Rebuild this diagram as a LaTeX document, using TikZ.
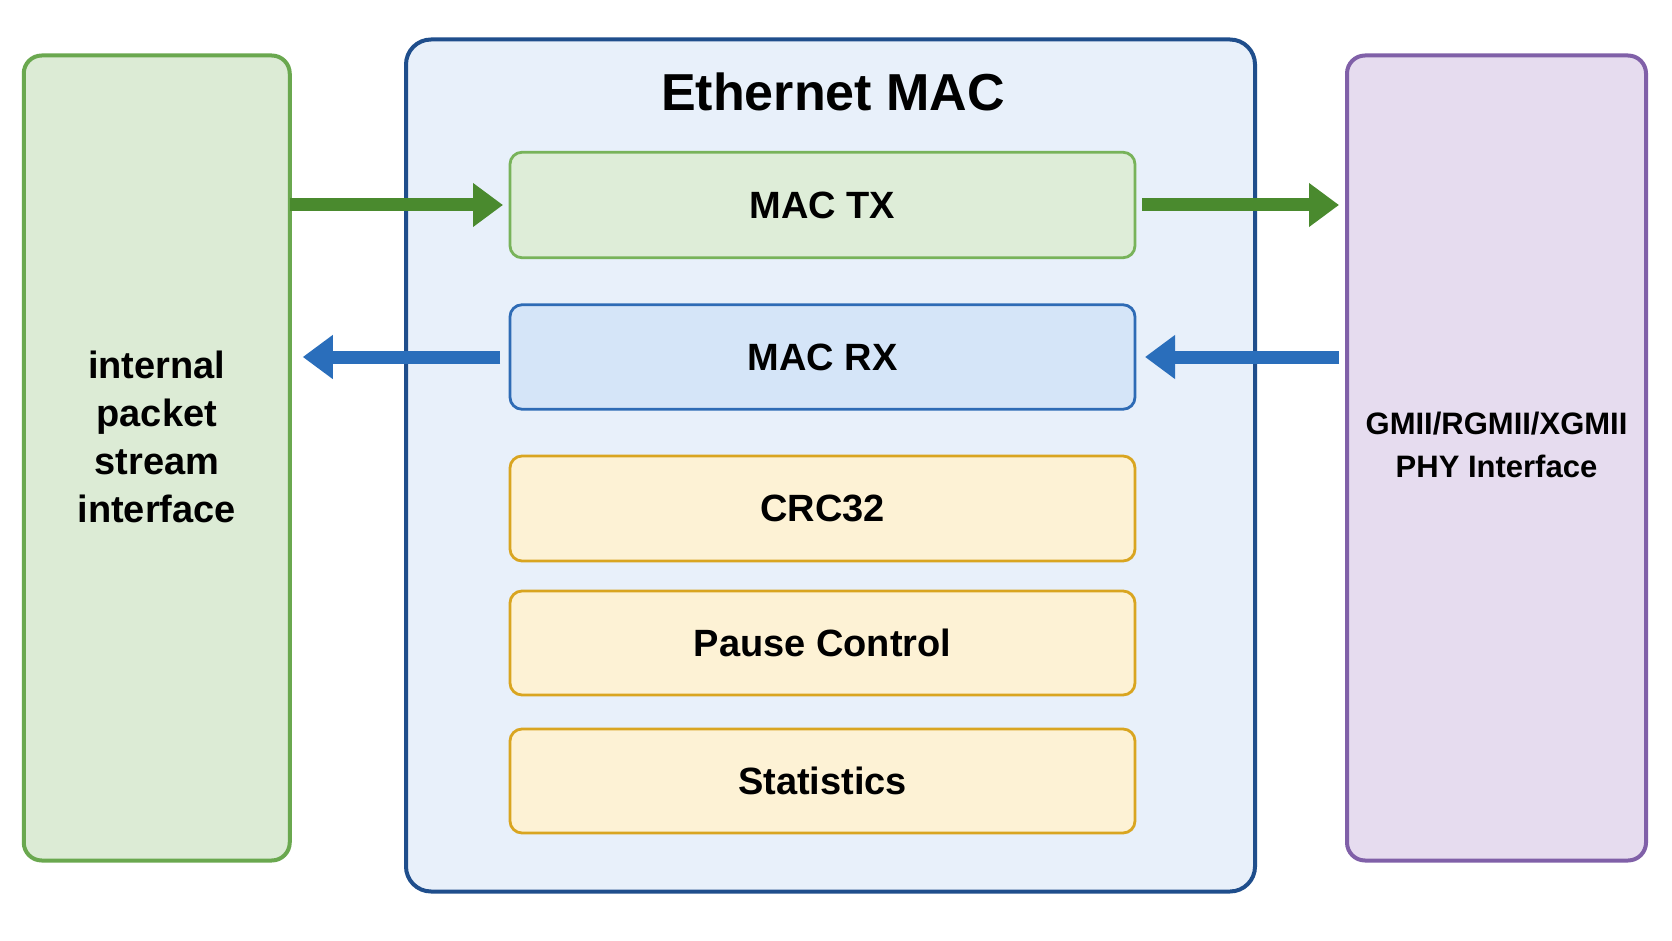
\documentclass[tikz,border=0pt]{standalone}
\usepackage{fontspec}
\setmainfont{Liberation Sans}
\usetikzlibrary{arrows.meta}
\definecolor{lgfill}{HTML}{DCEBD5}
\definecolor{lgdraw}{HTML}{6AA84F}
\definecolor{mfill}{HTML}{E8F0FA}
\definecolor{mdraw}{HTML}{1F4E8C}
\definecolor{txfill}{HTML}{DEEDD8}
\definecolor{txdraw}{HTML}{78B35A}
\definecolor{rxfill}{HTML}{D5E5F8}
\definecolor{rxdraw}{HTML}{2E6BB5}
\definecolor{yfill}{HTML}{FDF2D5}
\definecolor{ydraw}{HTML}{D9A520}
\definecolor{pfill}{HTML}{E6DCEF}
\definecolor{pdraw}{HTML}{8060A8}
\definecolor{garrow}{HTML}{4A8A2E}
\definecolor{barrow}{HTML}{2A6EBB}
\tikzset{
  box/.style={rectangle, inner sep=0pt, outer sep=0pt},
  sidebox/.style={box, rounded corners=18pt, line width=4pt, minimum width=266pt, minimum height=805pt},
  inbox/.style={box, rounded corners=12pt, line width=2.8pt, minimum width=625pt, minimum height=104pt,
     font=\bfseries\fontsize{38}{46}\selectfont},
  flow/.style={line width=13pt, -{Triangle[length=30pt,width=42pt]}},
}
\begin{document}
\begin{tikzpicture}[x=1pt,y=-1pt]
\useasboundingbox[fill=white] (0,0) rectangle (1672,941);
% side boxes
\node[sidebox, fill=lgfill, draw=lgdraw] (lb) at (156.75,458) {};
\node[sidebox, fill=pfill, draw=pdraw, minimum width=299pt] (rb) at (1496.5,458) {};
\node[align=center, font=\bfseries\fontsize{38}{48}\selectfont] (lbt) at (156.75,436.5) {internal\\packet\\stream\\interface};
\node[align=center, font=\bfseries\fontsize{31}{43}\selectfont] (rbt) at (1496.5,444.5) {GMII/RGMII/XGMII\\PHY Interface};
% main box
\node[box, rounded corners=25pt, line width=4pt, fill=mfill, draw=mdraw, minimum width=849pt, minimum height=852pt] (mac) at (830.5,465.5) {};
\node[font=\bfseries\fontsize{52}{60}\selectfont] (title) at (833,92) {Ethernet MAC};
% inner blocks
\node[inbox, fill=txfill, draw=txdraw, minimum height=105.5pt] (tx) at (822.5,205) {MAC TX};
\node[inbox, fill=rxfill, draw=rxdraw, minimum height=104.5pt] (rx) at (822.5,357) {MAC RX};
\node[inbox, fill=yfill, draw=ydraw, minimum height=105pt] (crc) at (822.5,508.5) {CRC32};
\node[inbox, fill=yfill, draw=ydraw] (pause) at (822.5,643) {Pause Control};
\node[inbox, fill=yfill, draw=ydraw] (stats) at (822.5,781) {Statistics};
% arrows
\draw[flow, garrow, shorten >=7pt] (lb.east |- tx.west) -- (tx.west);
\draw[flow, garrow, shorten <=7pt, shorten >=8pt] (tx.east) -- (tx.east -| rb.west);
\draw[flow, barrow, shorten <=8pt, shorten >=10pt] (rb.west |- rx.east) -- (rx.east);
\draw[flow, barrow, shorten <=10pt, shorten >=13pt] (rx.west) -- (rx.west -| lb.east);
\end{tikzpicture}
\end{document}
